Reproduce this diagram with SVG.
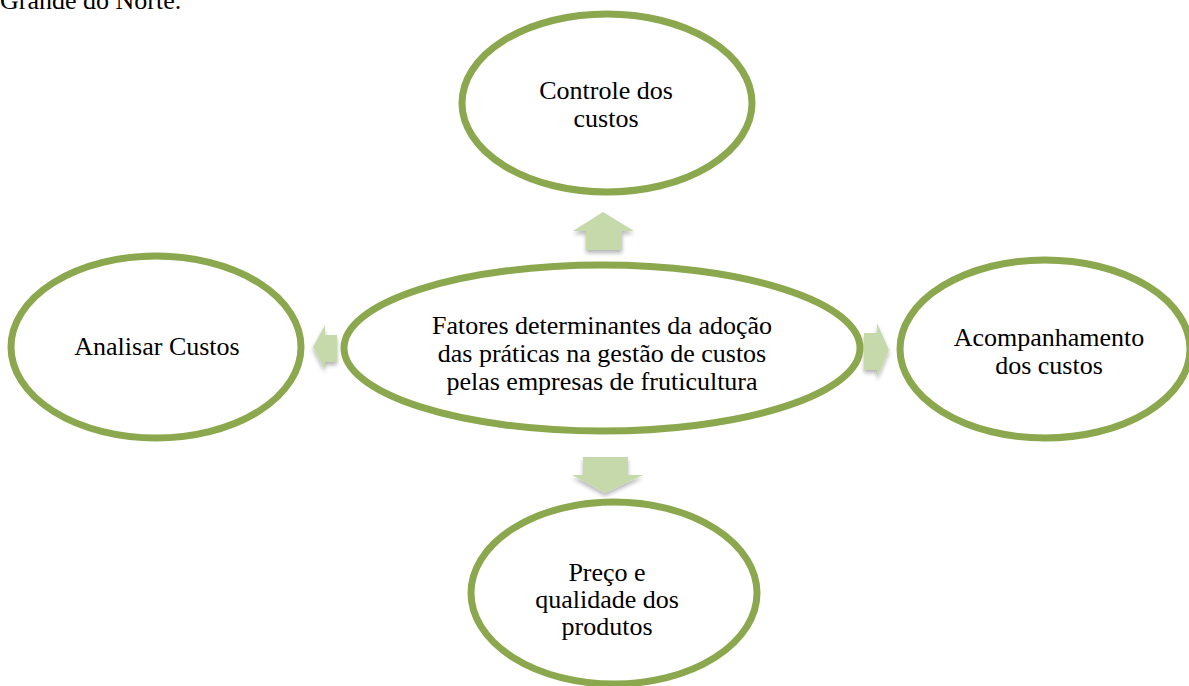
<svg xmlns="http://www.w3.org/2000/svg" width="1189" height="686" viewBox="0 0 1189 686">
<defs>
<style>
.node ellipse{fill:#fff;stroke:#8ba84e;stroke-width:7}
text{font-family:"Liberation Serif","Times New Roman",serif;font-size:26px;fill:#000;text-anchor:middle}
.arr{fill:#c5d9aa}
</style>
<filter id="sh" x="-30%" y="-30%" width="160%" height="160%">
<feGaussianBlur in="SourceAlpha" stdDeviation="2"/>
<feOffset dx="0" dy="3"/>
<feComponentTransfer><feFuncA type="linear" slope="0.3"/></feComponentTransfer>
<feMerge><feMergeNode/><feMergeNode in="SourceGraphic"/></feMerge>
</filter>
</defs>
<rect width="1189" height="686" fill="#fff"/>
<text x="0" y="9" style="text-anchor:start">Grande do Norte.</text>
<g id="connectors" filter="url(#sh)">
<polygon class="arr" points="603,212 634,231 622,231 622,250 586,250 586,231 573,231"/>
<polygon class="arr" points="313,347 325,325 325,335 337,335 337,362 325,362 325,370"/>
<polygon class="arr" points="889,350 877,323 877,333 864,333 864,370 877,370 877,378"/>
<polygon class="arr" points="605,493 643,475 628,475 628,457 583,457 583,475 572,475"/>
</g>
<g id="n-center" class="node">
<ellipse cx="602" cy="348" rx="258" ry="83"/>
<text x="602" y="334">Fatores determinantes da adoção</text>
<text x="602" y="362">das práticas na gestão de custos</text>
<text x="602" y="390">pelas empresas de fruticultura</text>
</g>
<g id="n-top" class="node">
<ellipse cx="607" cy="103" rx="145" ry="89"/>
<text x="606" y="99">Controle dos</text>
<text x="606" y="127">custos</text>
</g>
<g id="n-left" class="node">
<ellipse cx="156" cy="347" rx="145" ry="91"/>
<text x="157" y="355">Analisar Custos</text>
</g>
<g id="n-right" class="node">
<ellipse cx="1045" cy="349" rx="145" ry="89"/>
<text x="1049" y="346">Acompanhamento</text>
<text x="1049" y="374">dos custos</text>
</g>
<g id="n-bottom" class="node">
<ellipse cx="614" cy="593" rx="143" ry="91"/>
<text x="607" y="581">Preço e</text>
<text x="607" y="608">qualidade dos</text>
<text x="607" y="635">produtos</text>
</g>
</svg>
